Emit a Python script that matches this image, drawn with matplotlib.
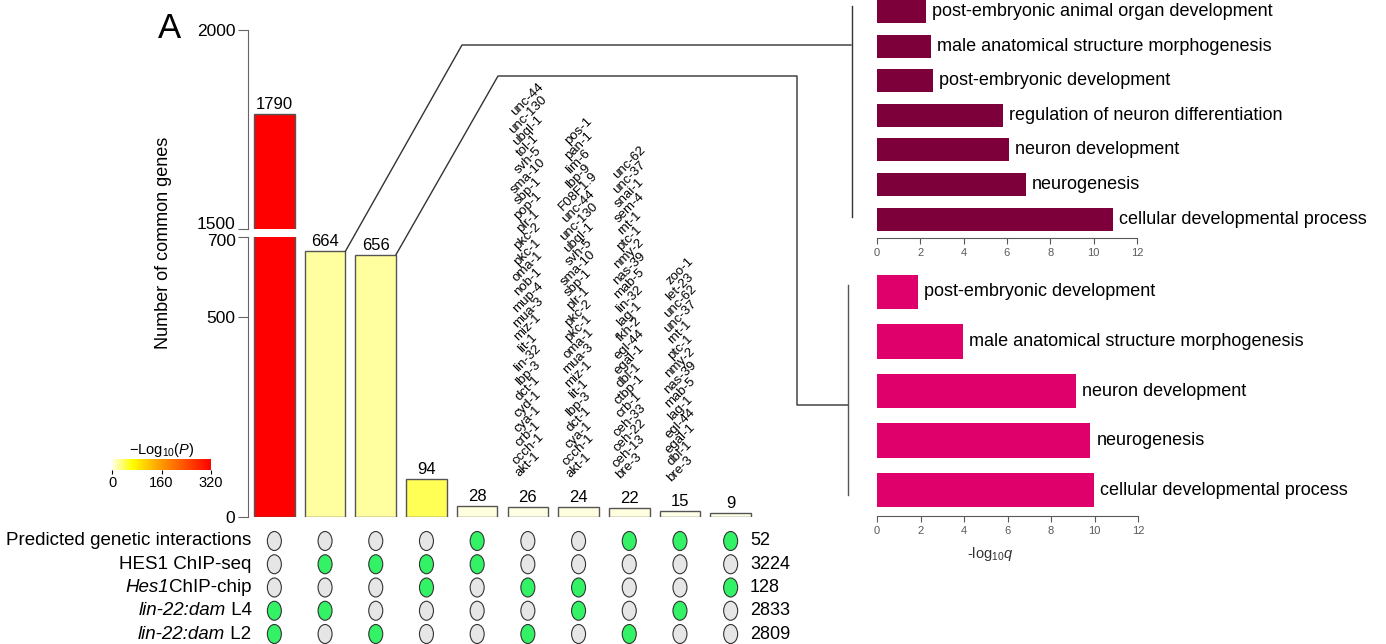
import matplotlib
matplotlib.use("Agg")
import matplotlib.pyplot as plt
import numpy as np
from matplotlib.colors import LinearSegmentedColormap, Normalize
from matplotlib.patches import Ellipse
from matplotlib.cm import ScalarMappable
from matplotlib.transforms import ScaledTranslation

plt.rcParams['font.family'] = ['Liberation Sans', 'DejaVu Sans']
plt.rcParams['mathtext.fontset'] = 'custom'
plt.rcParams['mathtext.rm'] = 'Liberation Sans'
plt.rcParams['mathtext.it'] = 'Liberation Sans:italic'
plt.rcParams['mathtext.bf'] = 'Liberation Sans:bold'

# ---------------- data ----------------
intersection_sizes = [1790, 664, 656, 94, 28, 26, 24, 22, 15, 9]
neg_log10_p = [320, 21, 21, 40, 3, 2, 3, 3, 1, 1]

# each set name as (text, italic) segments
set_names = [
    [("Predicted genetic interactions", False)],
    [("HES1 ChIP-seq", False)],
    [("Hes1", True), ("ChIP-chip", False)],
    [("lin-22:dam", True), (" L4", False)],
    [("lin-22:dam", True), (" L2", False)],
]
set_sizes = [52, 3224, 128, 2833, 2809]

membership = [
    [0, 0, 0, 0, 1, 0, 0, 1, 1, 1],
    [0, 1, 1, 1, 1, 0, 0, 0, 0, 0],
    [0, 0, 0, 1, 0, 1, 1, 0, 0, 1],
    [1, 1, 0, 0, 0, 0, 1, 0, 1, 0],
    [1, 0, 1, 0, 0, 1, 0, 1, 0, 0],
]

genes_26 = ["unc-44", "unc-130", "ubql-1", "tol-1", "svh-5", "sma-10", "sbp-1",
            "pop-1", "plr-1", "pkc-2", "pkc-1", "oma-1", "nob-1", "mup-4", "mua-3",
            "miz-1", "lit-1", "lin-32", "lbp-3", "dct-1", "cyd-1", "cya-1", "crb-1",
            "ccch-1", "akt-1"]
genes_24 = ["pos-1", "pan-1", "lim-6", "lbp-9", "F08F1.9", "unc-44", "unc-130",
            "ubql-1", "svh-5", "sma-10", "sbp-1", "plr-1", "pkc-2", "pkc-1", "oma-1",
            "mua-3", "miz-1", "lit-1", "lbp-3", "dct-1", "cya-1", "ccch-1", "akt-1"]
genes_22 = ["unc-62", "unc-37", "snai-1", "sem-4", "rnt-1", "ptc-1", "nmy-2",
            "nas-39", "mab-5", "lin-32", "lag-1", "fkh-2", "egl-44", "egal-1", "dbl-1",
            "ctbp-1", "crb-1", "ceh-33", "ceh-22", "ceh-13", "bre-3"]
genes_15 = ["zoo-1", "let-23", "unc-62", "unc-37", "rnt-1", "ptc-1", "nmy-2",
            "nas-39", "mab-5", "lag-1", "egl-44", "egal-1", "dbl-1", "bre-3"]
gene_columns = {5: genes_26, 6: genes_24, 7: genes_22, 8: genes_15}

go_terms_664 = ["post-embryonic animal organ development",
                "male anatomical structure morphogenesis",
                "post-embryonic development",
                "regulation of neuron differentiation",
                "neuron development",
                "neurogenesis",
                "cellular developmental process"]
go_q_664 = [2.26, 2.47, 2.6, 5.82, 6.1, 6.87, 10.87]

go_terms_656 = ["post-embryonic development",
                "male anatomical structure morphogenesis",
                "neuron development",
                "neurogenesis",
                "cellular developmental process"]
go_q_656 = [1.88, 3.96, 9.17, 9.81, 9.98]

# ---------------- figure ----------------
W, H = 1386, 644
fig = plt.figure(figsize=(W / 100, H / 100), dpi=100)
renderer = fig.canvas.get_renderer()


def px_axes(l, t, r, b, **kw):
    return fig.add_axes([l / W, 1 - b / H, (r - l) / W, (b - t) / H], **kw)


cmap = LinearSegmentedColormap.from_list(
    'p', [(0, '#FFFFE8'), (0.2, '#FFFF00'), (0.5, '#FF9900'), (1, '#FF0000')])
norm = Normalize(0, 320)
bar_colors = cmap(norm(neg_log10_p))
x = np.arange(len(intersection_sizes))

axis_gray = '#666666'
ax_lo = px_axes(248, 237, 756, 517)
ax_hi = px_axes(248, 30, 756, 229)
for ax in (ax_lo, ax_hi):
    ax.bar(x, intersection_sizes, width=0.8, color=bar_colors,
           edgecolor='#555555', linewidth=1)
    ax.set_xlim(-0.52, 9.5)
    for s in ('top', 'right', 'bottom'):
        ax.spines[s].set_visible(False)
    ax.spines['left'].set_color(axis_gray)
    ax.tick_params(axis='y', length=7, color=axis_gray, labelsize=12.5, pad=2)
    ax.set_xticks([])
    ax.patch.set_alpha(0)
ax_lo.set_ylim(0, 700)
ax_lo.set_yticks([0, 500, 700])
ax_hi.set_ylim(1500, 2000)
ax_hi.set_yticks([1500, 2000])

# nudge the labels at the axis break apart
for lab in ax_hi.get_yticklabels():
    if lab.get_text() == '1500':
        lab.set_transform(lab.get_transform() +
                          ScaledTranslation(0, 6 / 100, fig.dpi_scale_trans))
for lab in ax_lo.get_yticklabels():
    if lab.get_text() == '700':
        lab.set_transform(lab.get_transform() +
                          ScaledTranslation(0, -3 / 100, fig.dpi_scale_trans))

for i, v in enumerate(intersection_sizes):
    ax = ax_hi if v > 700 else ax_lo
    ax.annotate(str(v), (i, v), xytext=(0, 2), textcoords='offset pixels',
                ha='center', va='bottom', fontsize=12)

for idx, genes in gene_columns.items():
    for k, g in enumerate(reversed(genes)):
        ax_lo.annotate(g, (idx, intersection_sizes[idx]),
                       xytext=(0, 42 + k * 15.2), textcoords='offset pixels',
                       rotation=45, ha='center', va='center', fontsize=9.5)

fig.text(163 / W, 1 - 243 / H, 'Number of common genes', rotation=90,
         ha='center', va='center', fontsize=13)
fig.text(158 / W, 1 - 38 / H, 'A', fontsize=25, ha='left', va='baseline')

# colour bar
cax = px_axes(112, 459, 211, 470)
cb = fig.colorbar(ScalarMappable(norm=norm, cmap=cmap), cax=cax,
                  orientation='horizontal', ticks=[0, 160, 320])
cb.outline.set_visible(False)
cax.tick_params(labelsize=10.5, length=3, pad=1)
cax.set_title('\u2212Log$_{10}$($\\mathit{P}$)', fontsize=10.5, pad=3)

# membership matrix
ax_m = px_axes(248, 530, 756, 644)
ax_m.set_xlim(-0.52, 9.5)
ax_m.set_ylim(4.43, -0.473)
ax_m.axis('off')
green, gray = '#33F265', '#E6E6E6'
for r in range(len(set_names)):
    for c in range(len(intersection_sizes)):
        ax_m.add_patch(Ellipse((c, r), width=14 / 50.7, height=19 / 23.25,
                               facecolor=green if membership[r][c] else gray,
                               edgecolor='#333333', linewidth=0.8))
    # right-aligned row label built from italic / upright pieces
    offset = 0.0
    for txt, ital in reversed(set_names[r]):
        t = ax_m.annotate(txt, (-0.45, r), xytext=(-offset, 0),
                          textcoords='offset pixels', ha='right', va='center',
                          fontsize=13.5, style='italic' if ital else 'normal')
        offset += t.get_window_extent(renderer).width
    ax_m.text(9.38, r, str(set_sizes[r]), ha='left', va='center', fontsize=13)

# GO panels
tick_gray = '#595959'


def go_panel(ax, terms, vals, color, height, ylim):
    y = np.arange(len(terms))
    ax.barh(y, vals, height=height, color=color, edgecolor='none')
    for yi, (t, v) in enumerate(zip(terms, vals)):
        ax.annotate(t, (v, yi), xytext=(6, 0), textcoords='offset pixels',
                    ha='left', va='center', fontsize=13)
    ax.set_xlim(0, 12)
    ax.set_ylim(*ylim)
    ax.set_xticks(range(0, 13, 2))
    ax.set_yticks([])
    for s in ('top', 'right', 'left'):
        ax.spines[s].set_visible(False)
    ax.spines['bottom'].set_color(tick_gray)
    ax.tick_params(axis='x', length=4, color=tick_gray, labelsize=8,
                   labelcolor=tick_gray, pad=3)
    ax.patch.set_alpha(0)


ax_t = px_axes(877, 0, 1137, 238)
go_panel(ax_t, go_terms_664, go_q_664, '#7D003A', 0.66, (6.546, -0.332))
ax_b = px_axes(877, 262, 1138, 516)
go_panel(ax_b, go_terms_656, go_q_656, '#DF006B', 0.69, (4.525, -0.606))
ax_b.set_xlabel('-log$_{10}$$\\mathit{q}$', fontsize=10.5, color='#333333')
ax_b.xaxis.set_label_coords(0.433, -0.114)

# connector lines
ov = fig.add_axes([0, 0, 1, 1], zorder=5)
ov.set_xlim(0, W)
ov.set_ylim(H, 0)
ov.axis('off')


def to_px(ax, pt):
    return ov.transData.inverted().transform(ax.transData.transform(pt))


line_kw = dict(color='#333333', linewidth=1)
p1 = to_px(ax_lo, (1.4, intersection_sizes[1]))
ov.plot([p1[0], 462, 851], [p1[1], 45, 45], **line_kw)
ov.plot([852, 852], [6, 217], **line_kw)
p2 = to_px(ax_lo, (2.4, intersection_sizes[2]))
ov.plot([p2[0], 498, 797, 797, 848], [p2[1], 76, 76, 405, 405], **line_kw)
ov.plot([848, 848], [285, 495], color='#555555', linewidth=1)

fig.savefig('out.png', dpi=100)
